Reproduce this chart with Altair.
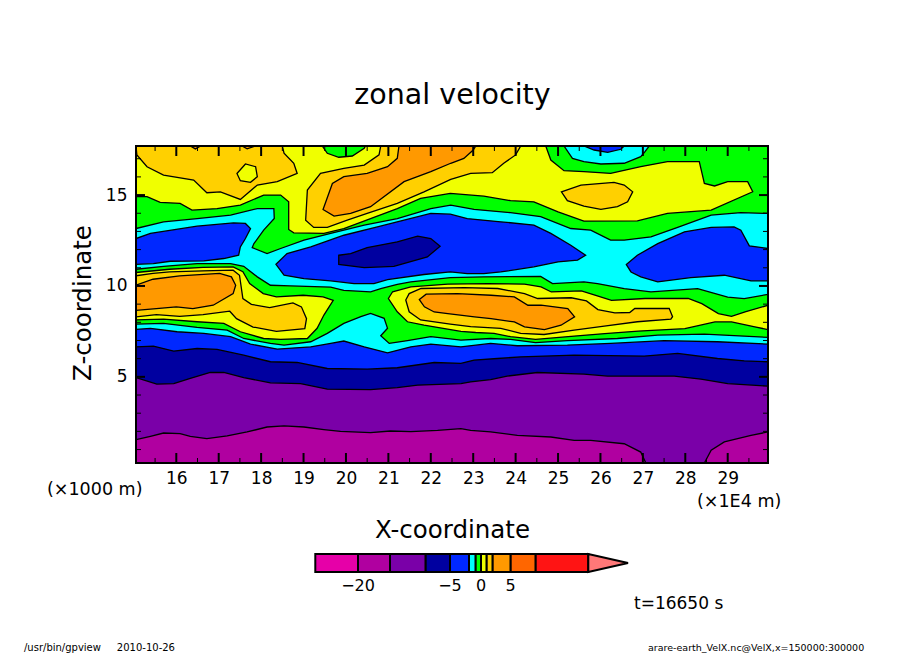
import altair as alt
import pandas as pd

XMIN, XMAX, ZMIN, ZMAX = 15.05, 29.95, 0.26, 17.7

# colours of the contour bands
MAGENTA2, MAGENTA, PURPLE, NAVY, BLUE = "#e600a8", "#b000a0", "#7a00a8", "#0000a0", "#0028ff"
CYAN, GREEN, YELLOW, GOLD, ORANGE = "#00ffff", "#00ff00", "#f0ff00", "#ffd000", "#ff9900"
DKORANGE, RED, PINK = "#ff6600", "#ff1414", "#ff7878"

# contour regions, (x [1e4 m], z [1e3 m])
FRAME = [(XMIN, ZMIN), (XMIN, ZMAX), (XMAX, ZMAX), (XMAX, ZMIN)]
GOLD_TL = [(15.05, 17.7), (15.07, 17.21), (15.31, 16.56), (15.70, 16.10), (16.41, 15.83), (16.72, 15.13), (17.04, 15.18),
           (17.51, 14.76), (17.91, 15.55), (18.38, 15.74), (18.85, 16.19), (18.77, 16.75), (18.54, 17.30), (18.50, 17.7)]
YELLOW_SPOT = [(17.43, 16.19), (17.63, 16.71), (17.87, 16.56), (17.91, 16.01), (17.75, 15.70), (17.51, 15.79)]
ORANGE_TINY1 = [(16.33, 17.7), (16.45, 17.54), (16.57, 17.7)]
ORANGE_TINY2 = [(17.55, 17.7), (17.67, 17.54), (17.87, 17.7)]
GREEN_PATCH = [(19.44, 17.7), (19.56, 17.30), (19.83, 17.08), (20.15, 17.15), (20.43, 17.57), (20.46, 17.7)]
GOLD_C = [(20.82, 17.7), (20.78, 17.21), (20.43, 16.65), (19.95, 16.47), (19.40, 16.19), (19.09, 15.28), (19.05, 13.62),
          (19.24, 13.22), (19.56, 13.22), (20.03, 13.62), (20.50, 13.99), (21.21, 14.54), (21.84, 15.18), (22.47, 15.86),
          (22.94, 16.19), (23.45, 16.23), (23.72, 16.75), (24.0, 17.21), (24.12, 17.7)]
ORANGE_C = [(21.25, 17.7), (21.21, 17.02), (20.98, 16.56), (20.50, 16.19), (19.95, 16.01), (19.68, 15.64), (19.46, 14.21),
            (19.72, 13.84), (20.11, 13.99), (20.58, 14.36), (21.37, 15.74), (22.0, 16.29), (22.47, 16.75), (22.78, 17.02),
            (23.0, 17.48), (23.06, 17.7)]
GOLD_TR = [(25.08, 15.18), (25.54, 15.55), (26.32, 15.70), (26.56, 15.55), (26.76, 15.18), (26.64, 14.63), (26.40, 14.36),
           (26.01, 14.21), (25.61, 14.39), (25.22, 14.69)]
GREEN_BIG = [(15.05, 14.91), (15.31, 14.91), (15.62, 14.60), (16.09, 14.54), (16.37, 14.17), (16.96, 14.26), (17.51, 14.45),
             (18.06, 15.0), (18.46, 15.0), (18.65, 14.63), (18.65, 13.11), (18.77, 12.92), (19.48, 12.89), (19.95, 13.16),
             (20.58, 13.71), (21.21, 14.26), (21.76, 14.82), (22.46, 15.09), (23.25, 14.94), (23.88, 14.69), (24.43, 14.63),
             (25.0, 14.08), (25.61, 13.57), (26.87, 13.58), (27.58, 13.99), (28.61, 14.17), (29.59, 15.18), (29.47, 15.74),
             (29.0, 15.74), (28.69, 15.50), (28.45, 15.64), (28.33, 16.84), (27.58, 16.84), (26.95, 16.56), (26.24, 16.19),
             (25.61, 16.29), (25.14, 16.34), (24.83, 16.93), (24.71, 17.7), (29.95, 17.7), (29.95, 0.26), (15.05, 0.26)]
CYAN_TOP = [(25.14, 17.7), (25.34, 17.02), (25.61, 16.84), (26.01, 16.71), (26.56, 16.75), (26.95, 17.11), (27.05, 17.39), (27.15, 17.7)]
BLUE_TOP = [(25.61, 17.7), (25.85, 17.48), (26.17, 17.35), (26.48, 17.52), (26.56, 17.7)]
CYAN_UP = [(15.05, 13.16), (15.70, 13.53), (16.49, 13.71), (17.28, 13.90), (17.91, 14.26), (18.30, 14.26), (18.31, 13.71),
           (18.06, 13.07), (17.83, 12.33), (17.79, 12.11), (18.14, 11.78), (18.46, 12.06), (19.01, 12.52), (19.64, 12.89),
           (20.43, 13.35), (21.21, 13.71), (22.0, 14.26), (22.47, 14.45), (23.02, 14.21), (23.88, 14.03), (24.59, 13.81),
           (25.30, 13.16), (25.77, 13.07), (26.24, 12.52), (26.56, 12.52), (27.19, 12.70), (27.82, 13.22), (28.61, 13.90),
           (29.31, 14.03), (29.95, 13.99), (29.95, 9.54), (29.39, 9.30), (29.0, 9.39), (28.29, 9.85), (27.19, 9.67),
           (26.56, 9.85), (25.93, 10.13), (25.61, 10.22), (24.87, 10.13), (24.59, 10.53), (23.25, 10.50), (22.46, 10.46),
           (21.53, 10.22), (21.21, 10.09), (20.82, 9.85), (20.58, 9.67), (19.95, 9.76), (19.64, 9.94), (18.69, 10.0),
           (18.22, 10.04), (17.91, 10.50), (17.59, 11.08), (17.28, 11.23), (16.49, 11.23), (15.70, 11.08), (15.05, 10.92)]
BLUE_L = [(15.05, 12.61), (15.39, 12.89), (16.49, 13.29), (17.35, 13.47), (17.63, 13.44), (17.75, 13.16), (17.63, 12.61),
          (17.51, 12.15), (17.47, 11.69), (17.12, 11.51), (16.65, 11.38), (15.86, 11.36), (15.46, 11.23), (15.05, 11.19)]
BLUE_C = [(18.35, 11.19), (18.61, 11.78), (19.17, 12.15), (19.95, 12.79), (20.74, 13.25), (21.37, 13.62), (22.0, 13.99),
          (22.46, 13.95), (22.86, 13.71), (23.65, 13.53), (24.43, 13.35), (24.83, 12.89), (25.30, 12.24), (25.65, 11.69),
          (25.46, 11.42), (25.0, 11.32), (24.43, 11.05), (23.65, 10.77), (23.25, 10.68), (22.86, 10.68), (22.46, 10.77),
          (21.84, 10.63), (20.98, 10.35), (20.66, 10.13), (20.19, 10.13), (19.64, 10.28), (19.01, 10.40), (18.54, 10.59)]
BLUE_R = [(26.61, 11.18), (26.87, 11.69), (27.35, 12.33), (27.98, 12.98), (28.61, 13.22), (29.15, 13.25), (29.31, 13.07),
          (29.51, 12.21), (29.95, 12.06), (29.95, 10.28), (29.55, 10.28), (28.92, 10.59), (28.13, 10.46), (27.35, 10.22),
          (26.95, 10.50), (26.72, 10.77)]
NAVY_C = [(19.83, 11.69), (20.11, 11.78), (20.50, 12.11), (21.21, 12.43), (21.69, 12.74), (22.0, 12.61), (22.22, 12.19),
          (21.92, 11.60), (21.13, 11.08), (20.43, 11.01), (19.83, 11.19)]
YELLOW_L = [(15.05, 10.74), (15.84, 10.92), (16.63, 11.02), (17.34, 11.05), (17.57, 10.78), (17.73, 10.13), (18.05, 9.58),
            (18.36, 9.40), (18.99, 9.49), (19.46, 9.40), (19.70, 9.21), (19.48, 8.40), (19.32, 7.67), (19.09, 7.11),
            (18.46, 7.06), (18.06, 7.11), (17.51, 7.48), (17.12, 7.94), (16.49, 8.03), (15.70, 8.18), (15.05, 8.13)]
GOLD_L = [(15.05, 10.56), (15.45, 10.69), (15.84, 10.78), (16.63, 10.83), (17.34, 10.87), (17.49, 10.59), (17.57, 9.31),
          (17.77, 8.99), (18.20, 8.81), (18.75, 9.07), (18.95, 8.85), (19.07, 8.20), (19.03, 7.65), (18.36, 7.50),
          (17.81, 7.74), (17.42, 8.20), (17.26, 8.61), (16.63, 8.42), (16.08, 8.33), (15.53, 8.42), (15.05, 8.30)]
ORANGE_L = [(15.05, 10.04), (15.45, 10.37), (16.08, 10.56), (17.02, 10.69), (17.30, 10.50), (17.40, 10.04), (17.34, 9.58),
            (16.87, 8.94), (16.39, 8.75), (16.0, 8.85), (15.53, 8.75), (15.05, 8.66)]
YELLOW_R = [(21.0, 9.31), (21.10, 9.68), (21.53, 9.95), (22.40, 10.10), (23.34, 10.13), (24.21, 10.10), (24.60, 9.95),
            (24.84, 9.67), (25.55, 9.73), (25.87, 9.49), (26.26, 9.21), (27.05, 9.31), (28.07, 9.31), (28.39, 9.03),
            (28.78, 8.48), (29.09, 8.33), (29.41, 8.57), (29.95, 8.94), (29.95, 7.60), (29.64, 7.75), (29.09, 8.02),
            (28.70, 8.02), (27.99, 7.65), (26.89, 7.52), (26.10, 7.38), (25.31, 7.23), (24.47, 7.06), (23.88, 7.21),
            (23.49, 7.39), (23.06, 7.44), (22.71, 7.50), (21.84, 7.85), (21.45, 8.03), (21.21, 8.58)]
GOLD_R = [(21.41, 9.23), (21.49, 9.58), (21.77, 9.86), (22.79, 9.91), (23.58, 9.86), (24.21, 9.58), (24.52, 9.31),
          (25.31, 9.35), (25.67, 9.18), (25.94, 8.70), (26.34, 8.52), (26.69, 8.54), (26.81, 8.76), (27.62, 8.77),
          (27.70, 8.31), (27.66, 8.18), (26.87, 8.03), (26.09, 7.79), (25.38, 7.57), (24.67, 7.33), (24.12, 7.39),
          (23.65, 7.67), (22.94, 7.76), (22.46, 7.90), (21.76, 8.13), (21.49, 8.58)]
ORANGE_R = [(21.73, 9.25), (21.89, 9.55), (22.63, 9.58), (23.42, 9.49), (23.97, 9.40), (24.29, 8.94), (24.60, 8.94),
            (25.23, 8.76), (25.39, 8.30), (25.07, 7.84), (24.68, 7.60), (24.21, 7.75), (23.97, 8.02), (23.42, 8.20),
            (23.03, 8.30), (22.40, 8.48), (22.08, 8.57), (21.85, 8.85)]
CYAN_LOW = [(15.05, 7.90), (15.70, 7.94), (16.49, 7.72), (17.20, 7.57), (17.59, 7.11), (18.22, 6.84), (18.54, 6.75),
            (19.17, 6.93), (19.56, 7.39), (19.95, 7.94), (20.35, 8.31), (20.58, 8.49), (20.90, 8.22), (20.98, 7.67),
            (20.82, 7.26), (21.02, 6.84), (21.45, 6.99), (22.0, 7.21), (22.71, 7.02), (23.41, 7.11), (23.88, 7.06),
            (24.47, 6.88), (25.22, 6.99), (26.40, 7.11), (27.35, 7.30), (28.45, 7.35), (29.95, 7.17), (29.95, 0.26), (15.05, 0.26)]
BLUE_LOW = [(15.05, 7.61), (15.39, 7.67), (16.02, 7.48), (16.65, 7.39), (17.28, 7.21), (17.75, 6.80), (18.38, 6.53),
            (19.17, 6.65), (19.64, 6.84), (19.95, 6.97), (20.43, 6.65), (20.98, 6.32), (21.53, 6.65), (22.0, 6.80),
            (22.71, 6.65), (23.41, 6.84), (24.04, 6.71), (25.22, 6.75), (26.24, 6.84), (27.50, 6.99), (28.76, 6.93),
            (29.95, 6.80), (29.95, 0.26), (15.05, 0.26)]
NAVY_LOW = [(15.05, 6.65), (15.46, 6.69), (15.94, 6.42), (16.49, 6.56), (16.96, 6.51), (17.59, 6.19), (18.22, 5.83),
            (18.85, 5.79), (19.56, 5.46), (20.50, 5.42), (21.21, 5.50), (22.08, 5.79), (22.71, 5.74), (23.02, 5.92),
            (23.57, 6.01), (24.12, 6.10), (25.38, 6.19), (27.03, 6.14), (27.82, 6.29), (28.76, 6.01), (29.39, 5.88),
            (29.95, 5.83), (29.95, 0.26), (15.05, 0.26)]
PURPLE_LOW = [(15.05, 4.96), (15.54, 4.60), (15.94, 4.63), (16.33, 4.91), (16.80, 5.24), (17.12, 5.24), (17.59, 4.96),
              (18.22, 4.67), (18.93, 4.63), (19.56, 4.32), (20.58, 4.30), (21.21, 4.41), (21.69, 4.54), (22.71, 4.63),
              (22.94, 4.72), (23.41, 4.85), (23.80, 5.04), (24.51, 5.24), (25.61, 5.15), (26.17, 5.04), (27.74, 5.04),
              (28.37, 4.87), (29.0, 4.63), (29.95, 4.49), (29.95, 0.26), (15.05, 0.26)]
MAGENTA_L = [(15.05, 1.54), (15.39, 1.73), (15.70, 1.91), (16.09, 1.88), (16.33, 1.73), (16.72, 1.60), (17.20, 1.75),
             (17.67, 1.97), (18.14, 2.24), (18.54, 2.30), (19.01, 2.24), (19.48, 2.10), (19.87, 2.00), (20.58, 1.93),
             (21.05, 2.02), (21.53, 1.99), (22.16, 2.06), (22.71, 2.15), (22.94, 2.06), (23.41, 1.97), (24.04, 1.78),
             (24.83, 1.69), (25.38, 1.51), (25.77, 1.51), (26.56, 1.32), (26.95, 0.86), (27.07, 0.26), (15.05, 0.26)]
MAGENTA_R = [(28.45, 0.26), (28.61, 0.96), (28.92, 1.42), (29.55, 1.78), (29.95, 1.97), (29.95, 0.26)]

REGIONS = [
    (FRAME, YELLOW), (GOLD_TL, GOLD), (YELLOW_SPOT, YELLOW), (ORANGE_TINY1, ORANGE), (ORANGE_TINY2, ORANGE),
    (GREEN_PATCH, GREEN), (GOLD_C, GOLD), (ORANGE_C, ORANGE), (GOLD_TR, GOLD), (GREEN_BIG, GREEN),
    (CYAN_TOP, CYAN), (BLUE_TOP, BLUE), (CYAN_UP, CYAN), (BLUE_L, BLUE), (BLUE_C, BLUE), (BLUE_R, BLUE), (NAVY_C, NAVY),
    (YELLOW_L, YELLOW), (GOLD_L, GOLD), (ORANGE_L, ORANGE), (YELLOW_R, YELLOW), (GOLD_R, GOLD), (ORANGE_R, ORANGE),
    (CYAN_LOW, CYAN), (BLUE_LOW, BLUE), (NAVY_LOW, NAVY), (PURPLE_LOW, PURPLE), (MAGENTA_L, MAGENTA), (MAGENTA_R, MAGENTA),
]

X_MAJOR = list(range(16, 30))
X_MINOR = [15.5 + i for i in range(15)]
Z_MAJOR = [5, 10, 15]
Z_MINOR = [1, 2, 3, 4, 6, 7, 8, 9, 11, 12, 13, 14, 16, 17]

BAR_LEVELS = [-30, -20, -15, -10, -5, -2, -1, 0, 1, 2, 5, 10, 20]
BAR_COLORS = [MAGENTA2, MAGENTA, PURPLE, NAVY, BLUE, CYAN, GREEN, YELLOW, GOLD, ORANGE, DKORANGE, RED]
BAR_TIP = 30
BAR_LABELS = [(-20, "\u221220"), (-5, "\u22125"), (0, "0"), (5, "5")]

W, H = 632, 317
FONT = "DejaVu Sans"
xs = alt.Scale(domain=[XMIN, XMAX], range=[0, W], nice=False, zero=False)
zs = alt.Scale(domain=[ZMIN, ZMAX], range=[H, 0], nice=False, zero=False)
bar_x = alt.Scale(domain=BAR_LEVELS + [BAR_TIP],
                  range=[179.3, 222, 254, 289.7, 314, 333, 339.7, 345, 350.7, 356.7, 374.7, 399.7, 452.3, 492],
                  zero=False, nice=False)
bar_y = alt.Scale(domain=[-1, 1], range=[426, 408], nice=False, zero=False)


def polygon(points, fill, stroke_width=1.3, clip=True):
    df = pd.DataFrame(points, columns=["x", "z"])
    df["i"] = range(len(df))
    kw = {"fill": fill} if fill else {"fillOpacity": 0}
    return alt.Chart(df).mark_line(
        stroke="black", strokeWidth=stroke_width, clip=clip, interpolate="linear-closed", **kw
    ).encode(
        x=alt.X("x:Q", scale=xs, axis=None),
        y=alt.Y("z:Q", scale=zs, axis=None),
        order=alt.Order("i:Q"),
    )


layers = [polygon(p, c) for p, c in REGIONS]


def xticks(vals, length, width):
    df = pd.DataFrame({"x": vals})
    enc = alt.X("x:Q", scale=xs, axis=None)
    return [
        alt.Chart(df).mark_rule(color="black", strokeWidth=width).encode(x=enc, y=alt.value(0), y2=alt.value(length)),
        alt.Chart(df).mark_rule(color="black", strokeWidth=width).encode(x=enc, y=alt.value(H), y2=alt.value(H - length)),
    ]


def zticks(vals, length, width):
    df = pd.DataFrame({"z": vals})
    enc = alt.Y("z:Q", scale=zs, axis=None)
    return [
        alt.Chart(df).mark_rule(color="black", strokeWidth=width).encode(y=enc, x=alt.value(0), x2=alt.value(length)),
        alt.Chart(df).mark_rule(color="black", strokeWidth=width).encode(y=enc, x=alt.value(W), x2=alt.value(W - length)),
    ]


layers += xticks(X_MINOR, 5, 1) + xticks(X_MAJOR, 10, 2) + zticks(Z_MINOR, 5, 1) + zticks(Z_MAJOR, 9, 2)
layers.append(polygon(FRAME, None, 2.0, False))

# tick labels through real axes
axis_df = pd.DataFrame({"x": [XMIN, XMAX], "z": [ZMIN, ZMAX]})
layers.append(
    alt.Chart(axis_df).mark_point(opacity=0).encode(
        x=alt.X("x:Q", scale=xs, axis=alt.Axis(values=X_MAJOR, ticks=False, domain=False, grid=False, title=None,
                                               labelFont=FONT, labelFontSize=17, labelColor="black", labelPadding=7,
                                               format="d")),
        y=alt.Y("z:Q", scale=zs, axis=alt.Axis(values=Z_MAJOR, ticks=False, domain=False, grid=False, title=None,
                                               labelFont=FONT, labelFontSize=17, labelColor="black", labelPadding=9,
                                               format="d")),
    )
)

# colour bar
bar_df = pd.DataFrame({"lo": BAR_LEVELS[:-1], "hi": BAR_LEVELS[1:], "c": BAR_COLORS})
layers.append(
    alt.Chart(bar_df).mark_rect(stroke="black", strokeWidth=2).encode(
        x=alt.X("lo:Q", scale=bar_x, axis=None),
        x2="hi:Q",
        y=alt.value(408),
        y2=alt.value(426),
        fill=alt.Fill("c:N", scale=None),
    )
)
tip_df = pd.DataFrame({"lv": [BAR_LEVELS[-1], BAR_LEVELS[-1], BAR_TIP], "v": [-1, 1, 0], "i": [0, 1, 2]})
layers.append(
    alt.Chart(tip_df).mark_line(fill=PINK, stroke="black", strokeWidth=2, interpolate="linear-closed").encode(
        x=alt.X("lv:Q", scale=bar_x, axis=None),
        y=alt.Y("v:Q", scale=bar_y, axis=None),
        order=alt.Order("i:Q"),
    )
)
lab_df = pd.DataFrame(BAR_LABELS, columns=["lv", "t"])
layers.append(
    alt.Chart(lab_df).mark_text(font=FONT, fontSize=16, color="black").encode(
        x=alt.X("lv:Q", scale=bar_x, axis=None), y=alt.value(440), text="t:N"
    )
)


def label(text, x, y, size, angle=0, align="center"):
    kw = {"angle": angle} if angle else {}
    return alt.Chart(pd.DataFrame({"t": [text]})).mark_text(
        font=FONT, fontSize=size, color="black", align=align, baseline="middle", **kw
    ).encode(x=alt.value(x), y=alt.value(y), text="t:N")


layers += [
    label("zonal velocity", 316.5, -51, 28.5),
    label("X-coordinate", 316.5, 385, 24.5),
    label("Z-coordinate", -52, 157, 24.5, angle=270),
    label("(\u00d71000 m)", -89, 344, 17.5, align="left"),
    label("(\u00d71E4 m)", 561, 356, 17.5, align="left"),
    label("t=16650 s", 498, 458, 17, align="left"),
    label("/usr/bin/gpview\u00a0\u00a0\u00a0\u00a0\u00a02010-10-26", -112, 502, 10, align="left"),
    label("arare-earth_VelX.nc@VelX,x=150000:300000", 512, 502, 9.5, align="left"),
]

chart = alt.layer(*layers).resolve_scale(x="independent", y="independent").properties(
    width=W,
    height=H,
    padding={"left": 128, "top": 138, "right": 128, "bottom": 191},
    autosize=alt.AutoSizeParams(type="none", contains="content"),
    background="white",
).configure_view(stroke=None)

chart.save("out.html", embed_options={"renderer": "svg", "actions": False})
